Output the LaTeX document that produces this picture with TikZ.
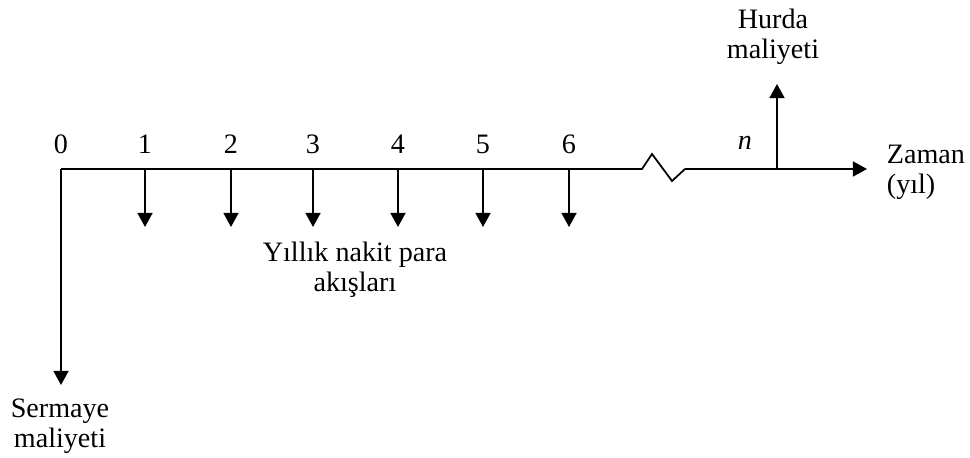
\documentclass[tikz,border=0pt]{standalone}
\usepackage{fontspec}
\setmainfont{Liberation Serif}
\usetikzlibrary{arrows.meta}
\begin{document}
\begin{tikzpicture}[line width=1pt, >={Triangle[length=8pt,width=8.5pt]},
  every node/.style={font=\fontsize{16}{17}\selectfont, inner sep=0pt}]
  \useasboundingbox (0,0) rectangle (19.4,9.16);

  % time axis with break
  \coordinate (o) at (1.22,5.78);
  \coordinate (brk1) at (12.84,5.78);
  \coordinate (brk2) at (13.7,5.78);
  \coordinate (n) at (15.54,5.78);
  \coordinate (end) at (17.34,5.78);
  \draw (o) -- (brk1) -- (13.04,6.08) -- (13.44,5.54) -- (brk2);
  \draw[->] (brk2) -- (end);
  \node[anchor=west, align=left] (zaman) at (17.72,5.72) {Zaman\\(y\i l)};

  % year labels and annual cash flows
  \node (t0) at (1.22,6.28) {0};
  \foreach \i/\x in {1/2.9,2/4.62,3/6.26,4/7.96,5/9.66,6/11.38} {
    \coordinate (c\i) at (\x,5.78);
    \coordinate (d\i) at (\x,4.62);
    \node (t\i) at (\x,6.28) {\i};
    \draw[->] (c\i) -- (d\i);
  }
  \node[align=center] (nakit) at (7.1,3.76) {Y\i ll\i k nakit para\\ak\i şlar\i};

  % capital cost
  \coordinate (cap) at (1.22,1.46);
  \draw[->] (o) -- (cap);
  \node[align=center] (sermaye) at (1.2,0.64) {Sermaye\\maliyeti};

  % salvage cost at year n
  \coordinate (salv) at (15.54,7.48);
  \draw[->] (n) -- (salv);
  \node (tn) at (14.9,6.3) {\textit{n}};
  \node[align=center] (hurda) at (15.46,8.42) {Hurda\\maliyeti};
\end{tikzpicture}
\end{document}
